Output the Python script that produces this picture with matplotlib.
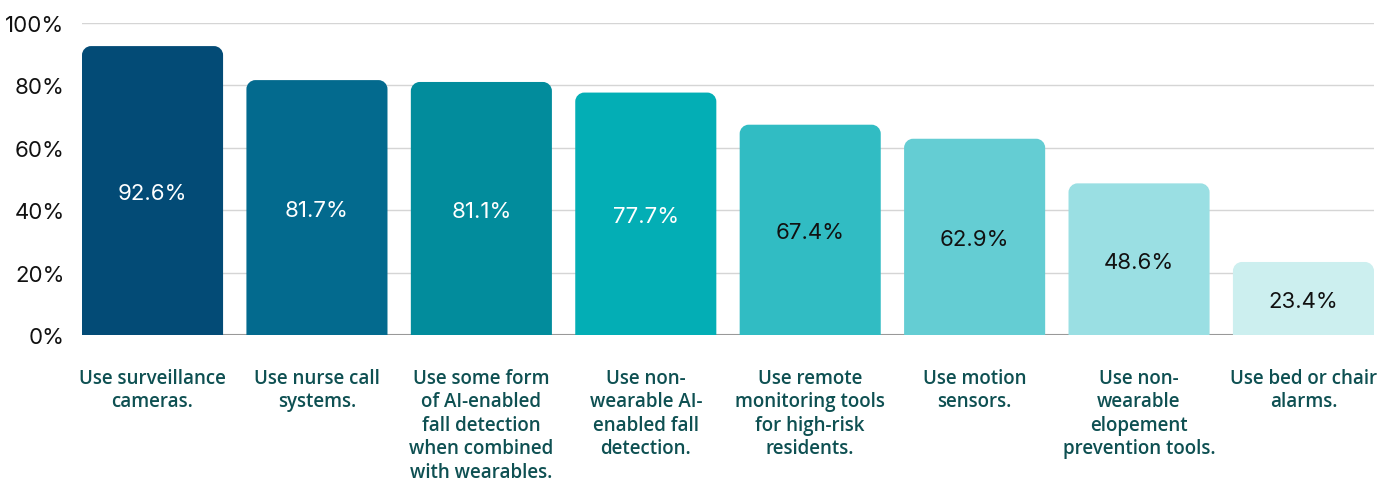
import matplotlib
matplotlib.use("Agg")
import matplotlib.pyplot as plt
from matplotlib.path import Path
from matplotlib.patches import PathPatch

categories = [
    "Use surveillance\ncameras.",
    "Use nurse call\nsystems.",
    "Use some form\nof AI-enabled\nfall detection\nwhen combined\nwith wearables.",
    "Use non-\nwearable AI-\nenabled fall\ndetection.",
    "Use remote\nmonitoring tools\nfor high-risk\nresidents.",
    "Use motion\nsensors.",
    "Use non-\nwearable\nelopement\nprevention tools.",
    "Use bed or chair\nalarms.",
]
values = [92.6, 81.7, 81.1, 77.7, 67.4, 62.9, 48.6, 23.4]
bar_colors = ["#034B76", "#036A8E", "#028C9C", "#03AEB5",
              "#31BCC3", "#64CDD3", "#9ADFE3", "#CCEFEF"]
label_colors = ["white"] * 4 + ["#111111"] * 4
y_ticks = [0, 20, 40, 60, 80, 100]

W, H, DPI = 1395, 481, 100
fig = plt.figure(figsize=(W / DPI, H / DPI), dpi=DPI)
ax = fig.add_axes([82 / W, 1 - 336 / H, (1374 - 82) / W, (336 - 24) / H])

width = 0.858
x = list(range(len(values)))
bars = ax.bar(x, values, width=width, color=bar_colors, zorder=3)
ax.set_xlim(-width / 2, len(values) - 1 + width / 2)
ax.set_ylim(0, 100)


def rounded_top(rect, r_px=9):
    """Replace a rectangle with one whose top corners are rounded."""
    x0, y0 = rect.get_x(), rect.get_y()
    w, h = rect.get_width(), rect.get_height()
    fig.canvas.draw()
    inv = ax.transData.inverted()
    p0 = inv.transform((0, 0))
    p1 = inv.transform((r_px, r_px))
    rx, ry = p1[0] - p0[0], p1[1] - p0[1]
    k = 0.5523
    x1, y1 = x0 + w, y0 + h
    verts = [
        (x0, y0), (x0, y1 - ry),
        (x0, y1 - ry + k * ry), (x0 + rx - k * rx, y1), (x0 + rx, y1),
        (x1 - rx, y1),
        (x1 - rx + k * rx, y1), (x1, y1 - ry + k * ry), (x1, y1 - ry),
        (x1, y0), (x0, y0),
    ]
    codes = [Path.MOVETO, Path.LINETO,
             Path.CURVE4, Path.CURVE4, Path.CURVE4,
             Path.LINETO,
             Path.CURVE4, Path.CURVE4, Path.CURVE4,
             Path.LINETO, Path.CLOSEPOLY]
    patch = PathPatch(Path(verts, codes), facecolor=rect.get_facecolor(),
                      edgecolor="none", zorder=3)
    ax.add_patch(patch)
    rect.set_visible(False)


for rect in bars:
    rounded_top(rect)

for xi, v, c in zip(x, values, label_colors):
    ax.text(xi, v / 2 - 0.8, f"{v}%", ha="center", va="center", color=c,
            fontsize=16, family="Inter", zorder=4)

ax.set_yticks(y_ticks)
ax.set_yticklabels([f"{t}%" for t in y_ticks], family="Inter", fontsize=16,
                   color="#111111")
ax.tick_params(axis="y", length=0, pad=12.5)
ax.tick_params(axis="x", length=0)
ax.set_xticks([])
for s in ax.spines.values():
    s.set_visible(False)
for t in y_ticks[1:]:
    ax.axhline(t, color="#D5D5D5", lw=1.0, zorder=1)
ax.axhline(0, color="#999999", lw=1.5, zorder=2)

for xi, cat in zip(x, categories):
    ax.text(xi, -10.5, cat, ha="center", va="top", color="#0E5052",
            fontsize=13.5, family="Open Sans", fontweight="semibold",
            linespacing=1.235)

fig.savefig("out.png", dpi=DPI)
